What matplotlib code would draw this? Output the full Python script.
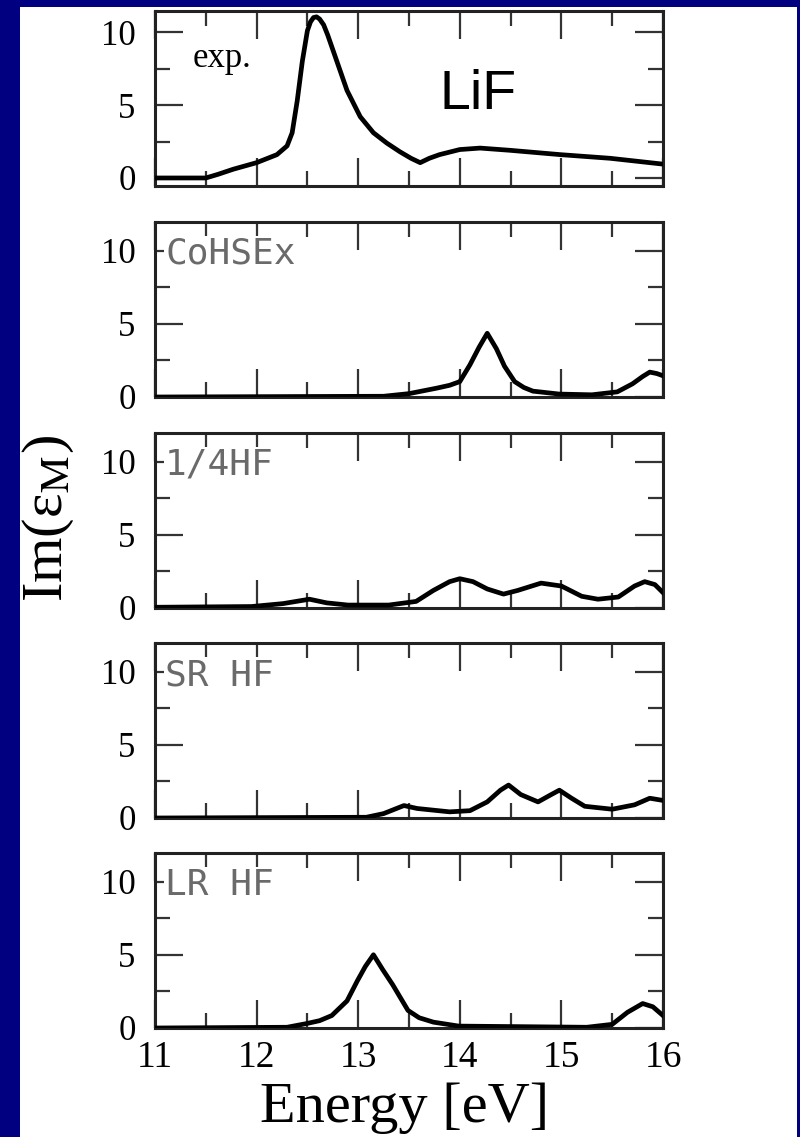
import numpy as np
import matplotlib
matplotlib.use('Agg')
import matplotlib.pyplot as plt
from matplotlib.patches import Rectangle
from matplotlib.ticker import MultipleLocator

plt.rcParams['font.family'] = ['Liberation Serif', 'DejaVu Serif']
plt.rcParams['mathtext.fontset'] = 'stix'

# Im(eps_M) spectra of LiF
exp_e = [11.0, 11.5, 11.62, 11.77, 12.0, 12.2, 12.3, 12.35, 12.4, 12.45, 12.5, 12.53, 12.56,
         12.59, 12.62, 12.66, 12.7, 12.79, 12.89, 13.02, 13.15, 13.28, 13.41, 13.52, 13.61,
         13.7, 13.8, 14.0, 14.2, 14.49, 14.99, 15.48, 16.0]
exp_v = [0.0, 0.0, 0.25, 0.6, 1.05, 1.6, 2.2, 3.1, 5.3, 8.0, 10.1, 10.7, 11.0,
         11.05, 10.9, 10.5, 9.8, 8.0, 6.0, 4.2, 3.1, 2.4, 1.8, 1.35, 1.05,
         1.35, 1.6, 1.95, 2.05, 1.9, 1.6, 1.35, 0.95]

cohsex_e = [11.0, 13.25, 13.5, 13.77, 13.9, 14.0, 14.1, 14.19, 14.27, 14.36, 14.44, 14.54,
            14.63, 14.72, 14.98, 15.3, 15.55, 15.7, 15.8, 15.87, 15.94, 16.0]
cohsex_v = [0.0, 0.05, 0.23, 0.6, 0.8, 1.05, 2.2, 3.4, 4.35, 3.3, 2.1, 1.05,
            0.65, 0.4, 0.2, 0.15, 0.35, 0.9, 1.4, 1.7, 1.6, 1.45]

quarter_e = [11.0, 11.95, 12.26, 12.52, 12.69, 12.9, 13.3, 13.57, 13.74, 13.9, 14.0, 14.13,
             14.27, 14.43, 14.57, 14.8, 15.0, 15.2, 15.36, 15.56, 15.72, 15.82, 15.92, 16.0]
quarter_v = [0.05, 0.1, 0.3, 0.6, 0.35, 0.2, 0.2, 0.45, 1.2, 1.8, 2.0, 1.8,
             1.3, 0.95, 1.2, 1.7, 1.5, 0.8, 0.6, 0.75, 1.5, 1.8, 1.6, 1.05]

sr_e = [11.0, 13.08, 13.25, 13.45, 13.58, 13.9, 14.1, 14.27, 14.4, 14.48, 14.6, 14.77,
        14.9, 14.98, 15.1, 15.23, 15.5, 15.72, 15.87, 16.0]
sr_v = [0.0, 0.05, 0.3, 0.85, 0.65, 0.42, 0.5, 1.1, 1.9, 2.25, 1.6, 1.1,
        1.6, 1.9, 1.35, 0.8, 0.6, 0.9, 1.35, 1.2]

lr_e = [11.0, 12.3, 12.49, 12.62, 12.74, 12.89, 12.99, 13.07, 13.15, 13.24, 13.34, 13.49,
        13.6, 13.74, 13.99, 15.25, 15.5, 15.65, 15.8, 15.9, 16.0]
lr_v = [0.0, 0.05, 0.3, 0.5, 0.85, 1.85, 3.2, 4.2, 5.0, 4.0, 2.95, 1.2,
        0.7, 0.4, 0.13, 0.05, 0.25, 1.07, 1.67, 1.45, 0.85]

names = ['', 'CoHSEx', '1/4HF', 'SR HF', 'LR HF']
xs = [exp_e, cohsex_e, quarter_e, sr_e, lr_e]
ys = [exp_v, cohsex_v, quarter_v, sr_v, lr_v]

W, H = 800, 1137
fig = plt.figure(figsize=(W / 100, H / 100), dpi=100, facecolor='#000080')
fig.patches.append(Rectangle((20 / W, 0), 777 / W, 1 - 7 / H, transform=fig.transFigure,
                             facecolor='white', edgecolor='none', zorder=-5))

tops = [11, 222, 433, 643, 853]
axes = []
for k in range(5):
    ax = fig.add_axes([155 / W, 1 - (tops[k] + 175) / H, 508 / W, 175 / H])
    ax.plot(xs[k], ys[k], color='black', lw=3.4, solid_joinstyle='round', zorder=3)
    ax.set_xlim(11, 16)
    if k == 0:
        ax.set_ylim(-0.55, 11.45)
    else:
        ax.set_ylim(0, 11.95)
    ax.xaxis.set_major_locator(MultipleLocator(1))
    ax.xaxis.set_minor_locator(MultipleLocator(0.5))
    ax.yaxis.set_major_locator(MultipleLocator(5))
    ax.yaxis.set_minor_locator(MultipleLocator(2.5))
    ax.tick_params(which='both', direction='in', top=True, right=True, color='#333333', width=1.6)
    ax.tick_params(which='major', length=20)
    ax.tick_params(which='minor', length=10.5)
    ax.tick_params(axis='y', labelsize=25, pad=14)
    ax.tick_params(axis='x', labelsize=27, pad=9, labelbottom=(k == 4))
    for s in ax.spines.values():
        s.set_linewidth(2.2)
        s.set_color('#222222')
    if names[k]:
        ax.text(0.02, 0.76, names[k], transform=ax.transAxes, fontsize=26,
                family='DejaVu Sans Mono', color='#6a6a6a', va='baseline', ha='left',
                zorder=4, bbox=dict(facecolor='white', edgecolor='none', pad=0.5))
    axes.append(ax)

axes[0].text(0.075, 0.68, 'exp.', transform=axes[0].transAxes, fontsize=25, va='baseline')
axes[0].text(0.561, 0.4375, 'LiF', transform=axes[0].transAxes, fontsize=40,
             family='Liberation Sans', va='baseline')

fig.text(48 / W, 1 - 518 / H, r'Im(ε$_{\rm M}$)', rotation=90, fontsize=42,
         ha='center', va='center')
fig.text(405 / W, 1 - 1108 / H, 'Energy [eV]', fontsize=42, ha='center', va='center')

fig.savefig('out.png', dpi=100, facecolor=fig.get_facecolor())
